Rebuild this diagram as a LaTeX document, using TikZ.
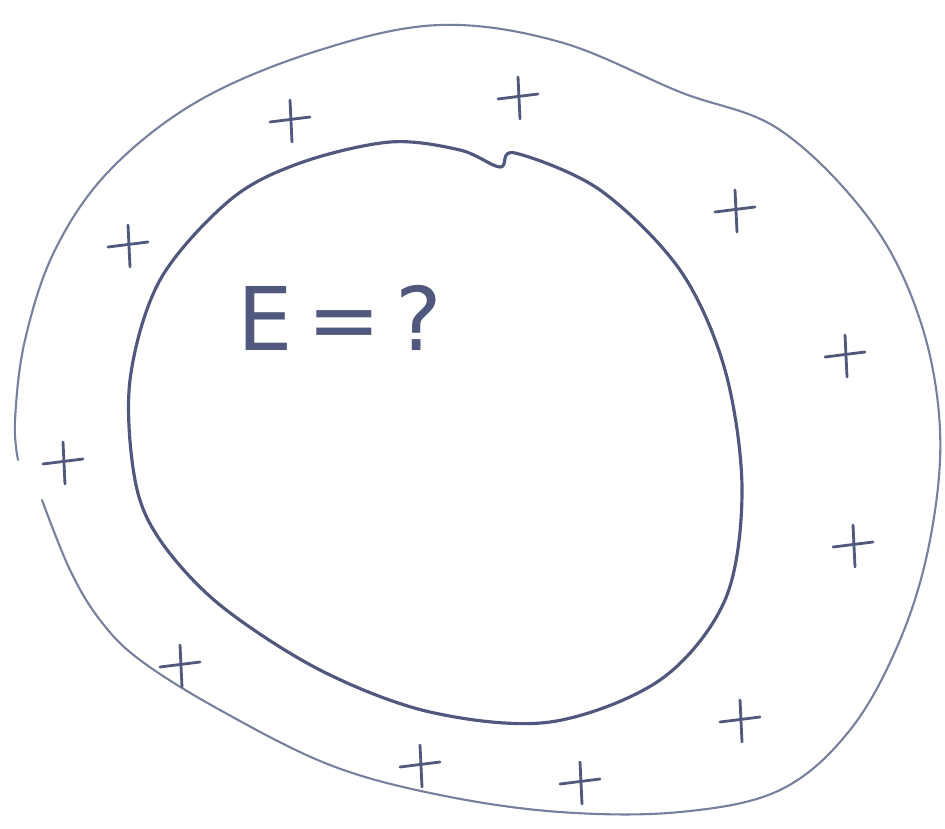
\documentclass[tikz,border=0pt]{standalone}
\usepackage{fontspec}
\setmainfont{DejaVu Sans}
\definecolor{ink}{RGB}{95,105,140}
\definecolor{inkd}{RGB}{80,88,125}
\tikzset{
  outerline/.style={draw=ink!85, line width=1.2pt, line cap=round},
  innerline/.style={draw=inkd, line width=1.8pt, line cap=round, line join=round},
  plusstroke/.style={draw=inkd, line width=1.6pt, line cap=round},
  handtext/.style={text=inkd, font=\fontsize{50}{52}\selectfont}
}
\newcommand{\plussign}[2]{%
  \draw[plusstroke] (#1-20,#2+2) -- (#1+20,#2-3);
  \draw[plusstroke] (#1,#2-20) -- (#1+2,#2+22);
}
\begin{document}
\begin{tikzpicture}[x=0.02cm,y=-0.02cm]
\useasboundingbox (0,0) rectangle (945,828);
% outer boundary
\draw[outerline] plot[smooth, tension=0.6] coordinates {
 (18,460) (15,420) (25,340) (55,250) (110,170) (200,100) (320,50) (440,25)
 (560,42) (680,92) (780,130) (870,220) (920,320) (940,430) (930,540)
 (900,640) (850,730) (780,790) (680,812) (560,812) (440,795) (330,765)
 (220,710) (140,660) (100,620) (70,570) (42,500)};
% inner boundary
\draw[innerline] plot[smooth cycle, tension=0.55] coordinates {
 (135,480) (130,380) (160,280) (230,200) (300,163) (390,142) (460,150)
 (500,167) (515,153) (600,190) (680,270) (725,370) (742,490) (725,600)
 (660,680) (550,722) (430,712) (320,670) (220,605) (160,540)};
% plus signs
\plussign{290}{120}
\plussign{518}{97}
\plussign{735}{210}
\plussign{128}{245}
\plussign{845}{355}
\plussign{63}{462}
\plussign{853}{545}
\plussign{180}{665}
\plussign{740}{720}
\plussign{420}{765}
\plussign{580}{782}
% label
\node[handtext] (lbl) at (340,318) {E\,=\,?};
\end{tikzpicture}
\end{document}
